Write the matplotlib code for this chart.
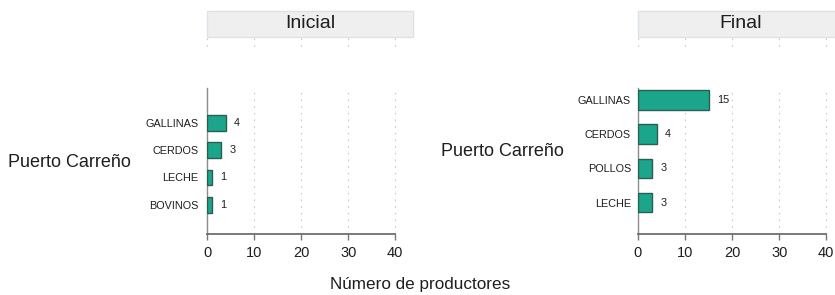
import matplotlib
matplotlib.use("Agg")
import matplotlib.pyplot as plt
from matplotlib.patches import Rectangle
from matplotlib.transforms import blended_transform_factory

plt.rcParams['font.family'] = ['Liberation Sans', 'DejaVu Sans']

# Data
panels = ["Inicial", "Final"]
cats_inicial = ["GALLINAS", "CERDOS", "LECHE", "BOVINOS"]
vals_inicial = [4, 3, 1, 1]
cats_final = ["GALLINAS", "CERDOS", "POLLOS", "LECHE"]
vals_final = [15, 4, 3, 3]
row_label = "Puerto Carreño"
xticks = [0, 10, 20, 30, 40]
xlabel = "Número de productores"

W, H = 835, 295
fig = plt.figure(figsize=(W/100, H/100), dpi=100)

def fx(px):
    return px / W

def fy(py):
    return 1 - py / H

bar_face = "#1BA68C"
bar_edge = "#2A5E52"
grid_col = "#C8C8C8"
txt_col = "#1E1E1E"

configs = [
    dict(left=207, cats=cats_inicial, vals=vals_inicial, ylim=(-0.09, 5.31), h=0.59,
         title=panels[0], lab_x=69, lab_y=163, pad=6),
    dict(left=638, cats=cats_final, vals=vals_final, ylim=(0.085, 4.35), h=0.57,
         title=panels[1], lab_x=502, lab_y=152, pad=5),
]

axw = 206
xmax = 40 * axw / 188.3
top, bottom = 88, 234

for c in configs:
    ax = fig.add_axes([fx(c['left']), fy(bottom), fx(axw), (bottom - top) / H])
    n = len(c['cats'])
    ypos = list(range(n, 0, -1))
    ax.barh(ypos, c['vals'], height=c['h'], color=bar_face, edgecolor=bar_edge,
            linewidth=1.0, zorder=3)
    for y, v in zip(ypos, c['vals']):
        ax.annotate(str(v), (v, y), xytext=(6, 0), textcoords='offset points',
                    ha='left', va='center', fontsize=7.8, color=txt_col)
    ax.set_xlim(0, xmax)
    ax.set_ylim(*c['ylim'])
    ax.set_yticks(ypos)
    ax.set_yticklabels(c['cats'], fontsize=7.8, color=txt_col)
    ax.set_xticks(xticks)
    ax.set_xticklabels([str(t) for t in xticks], fontsize=10.5, color=txt_col)
    ax.tick_params(axis='y', length=0, pad=c['pad'])
    ax.tick_params(axis='x', length=4.5, width=1.0, color='#777777', pad=4)
    for s in ['top', 'right']:
        ax.spines[s].set_visible(False)
    ax.spines['left'].set_color('#8C8C8C')
    ax.spines['left'].set_linewidth(1.0)
    ax.spines['bottom'].set_color('#6E6E6E')
    ax.spines['bottom'].set_linewidth(1.3)
    ax.spines['bottom'].set_bounds(0, 40)
    ax.set_facecolor('none')
    for t in xticks:
        ax.axvline(t, color=grid_col, lw=0.8, dashes=(1.5, 4.5), zorder=0)
    # stub gridlines under strip
    tr = blended_transform_factory(ax.transData, fig.transFigure)
    for t in xticks:
        ax.plot([t, t], [fy(38), fy(49)], transform=tr, color=grid_col, lw=0.8,
                dashes=(1.5, 4.5), clip_on=False)
    # strip
    strip = Rectangle((fx(c['left']), fy(36.7)), fx(axw), (36.7 - 10.7) / H,
                      transform=fig.transFigure, facecolor='#EFEFEF',
                      edgecolor='#DCE3E8', linewidth=1.0)
    fig.patches.append(strip)
    fig.text(fx(c['left'] + axw / 2), fy(23.5), c['title'], ha='center', va='center',
             fontsize=14, color=txt_col)
    fig.text(fx(c['lab_x']), fy(c['lab_y']), row_label, ha='center', va='center',
             fontsize=13, color=txt_col)

fig.text(fx(420), fy(285), xlabel, ha='center', va='center', fontsize=12.3, color=txt_col)

fig.savefig("out.png", dpi=100)
